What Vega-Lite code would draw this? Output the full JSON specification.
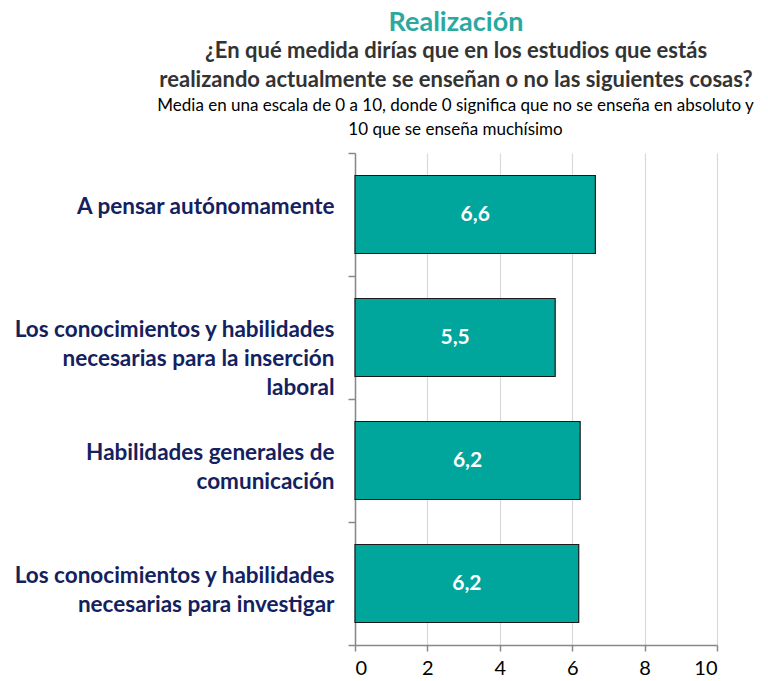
{
  "$schema": "https://vega.github.io/schema/vega-lite/v6.json",
  "width": 362,
  "height": 492,
  "padding": {"left": 13, "right": 40, "top": 9, "bottom": 5},
  "background": "white",
  "config": {
    "font": "Lato",
    "view": {"stroke": null},
    "locale": {"number": {"decimal": ",", "thousands": ".", "grouping": [3], "currency": ["", " €"]}}
  },
  "title": {
    "text": "Realización",
    "subtitle": ["¿En qué medida dirías que en los estudios que estás", "realizando actualmente se enseñan o no las siguientes cosas?"],
    "anchor": "middle",
    "frame": "group",
    "dx": -80,
    "font": "Lato",
    "fontSize": 27,
    "fontWeight": "bold",
    "color": "#2AA9A1",
    "subtitleFont": "Lato",
    "subtitleFontSize": 22,
    "subtitleFontWeight": "bold",
    "subtitleColor": "#333333",
    "subtitleLineHeight": 29,
    "subtitlePadding": 4,
    "offset": 4
  },
  "data": {
    "values": [
      {"item": "A pensar autónomamente", "value": 6.64},
      {"item": "Los conocimientos y habilidades|necesarias para la inserción|laboral", "value": 5.53},
      {"item": "Habilidades generales de|comunicación", "value": 6.22},
      {"item": "Los conocimientos y habilidades|necesarias para investigar", "value": 6.18}
    ]
  },
  "encoding": {
    "y": {
      "field": "item",
      "type": "nominal",
      "sort": [
        "A pensar autónomamente",
        "Los conocimientos y habilidades|necesarias para la inserción|laboral",
        "Habilidades generales de|comunicación",
        "Los conocimientos y habilidades|necesarias para investigar"
      ],
      "title": null,
      "scale": {"paddingInner": 0, "paddingOuter": 0},
      "axis": {
        "labelExpr": "split(datum.label, '|')",
        "labelFont": "Lato",
        "labelFontSize": 22.5,
        "labelFontWeight": "bold",
        "labelColor": "#13215E",
        "labelLineHeight": 29,
        "labelAlign": "right",
        "labelPadding": 14,
        "labelLimit": 400,
        "labelOffset": -8,
        "tickBand": "extent",
        "tickSize": 7,
        "tickColor": "#888888",
        "domainColor": "#888888",
        "domainWidth": 1.5,
        "tickWidth": 1.5
      }
    }
  },
  "layer": [
    {
      "mark": {"type": "bar", "color": "#00A59B", "stroke": "#1a1a1a", "strokeWidth": 1.2, "height": {"band": 0.634}},
      "encoding": {
        "x": {
          "field": "value",
          "type": "quantitative",
          "scale": {"domain": [0, 10]},
          "title": null,
          "axis": {
            "values": [0, 2, 4, 6, 8, 10],
            "labelFont": "Lato",
            "labelFontSize": 20,
            "labelColor": "#000000",
            "labelPadding": 7,
            "grid": true,
            "gridColor": "#D9D9D9",
            "gridWidth": 1.2,
            "domainColor": "#888888",
            "domainWidth": 1.5,
            "tickColor": "#888888",
            "tickWidth": 1.5,
            "tickSize": 6
          }
        }
      }
    },
    {
      "transform": [{"calculate": "datum.value / 2", "as": "mid"}],
      "mark": {"type": "text", "color": "white", "fontWeight": "bold", "fontSize": 21, "font": "Lato", "baseline": "middle"},
      "encoding": {
        "x": {
          "field": "mid",
          "type": "quantitative",
          "axis": {
            "orient": "top",
            "title": ["Media en una escala de 0 a 10, donde 0 significa que no se enseña en absoluto y", "10 que se enseña muchísimo"],
            "titleFont": "Lato",
            "titleFontSize": 17,
            "titleFontWeight": "normal",
            "titleColor": "#000000",
            "titleLineHeight": 24,
            "titleAnchor": "middle",
            "titleX": 100,
            "titlePadding": 15,
            "labels": false,
            "ticks": false,
            "domain": false,
            "grid": false
          }
        },
        "text": {"field": "value", "type": "quantitative", "format": ".1f"}
      }
    }
  ],
  "resolve": {"axis": {"x": "independent"}}
}
